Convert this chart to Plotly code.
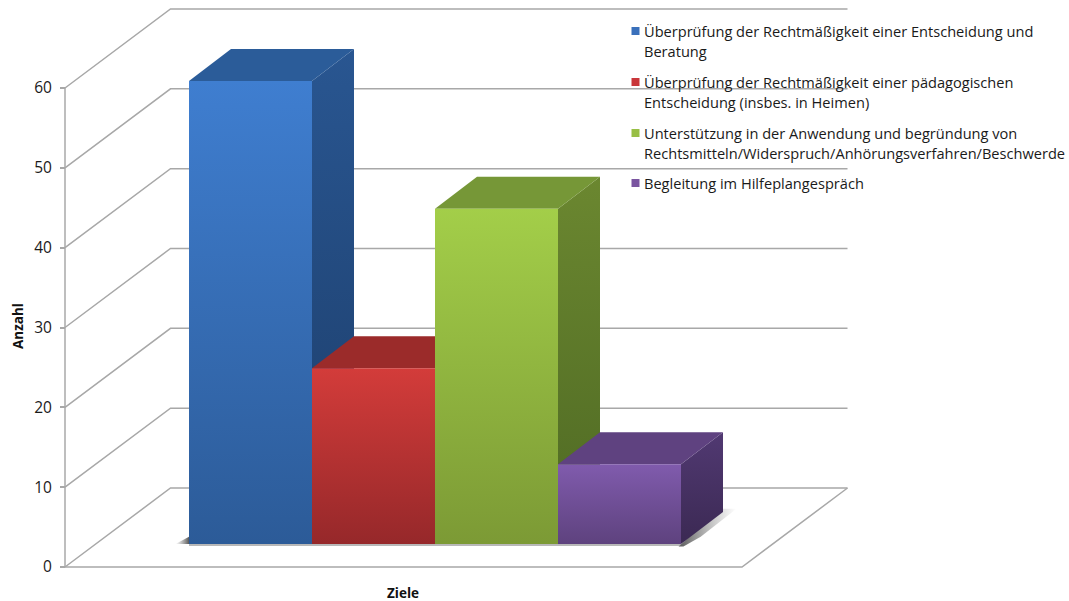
import plotly.graph_objects as go

# Chart content
categories = [
    "Überprüfung der Rechtmäßigkeit einer Entscheidung und<br>Beratung",
    "Überprüfung der Rechtmäßigkeit einer pädagogischen<br>Entscheidung (insbes. in Heimen)",
    "Unterstützung in der Anwendung und begründung von<br>Rechtsmitteln/Widerspruch/Anhörungsverfahren/Beschwerde",
    "Begleitung im Hilfeplangespräch",
]
values = [58, 22, 42, 10]
y_ticks = [0, 10, 20, 30, 40, 50, 60]

# Face colours per bar
front_top = ["#3F7ED0", "#D33C3A", "#A3CE49", "#805BAD"]
front_bottom = ["#2C5B98", "#96282A", "#7C9A35", "#5E427E"]
top_face = ["#2B5C99", "#9B2B2A", "#769737", "#5F4280"]
side_top = ["#295691", "#8A2625", "#6B8730", "#513972"]
side_bottom = ["#1C3D6A", "#6A1C1C", "#4E6923", "#3B2953"]
swatch = ["#3A70BB", "#C9363A", "#98BF45", "#7A55A0"]

GRID = "#A8A8A8"
WIDTH, HEIGHT = 1069, 601

# Axis scales: one x unit is one bar width, y is in counts
PX_PER_X = 123.0
PX_PER_Y = 479.0 / 60.0
X_ZERO_PX = 189.0
Y_ZERO_PX = 567.0
x_range = [-X_ZERO_PX / PX_PER_X, (WIDTH - X_ZERO_PX) / PX_PER_X]
y_range = [(Y_ZERO_PX - HEIGHT) / PX_PER_Y, Y_ZERO_PX / PX_PER_Y]

# Oblique projection of the box
WALL_LEFT = (65 - X_ZERO_PX) / PX_PER_X
FLOOR_W = 677 / PX_PER_X
WALL_DX = 105.5 / PX_PER_X
WALL_DY = 79.0 / PX_PER_Y
BAR_DX = 42.0 / PX_PER_X
BAR_DY = 32.0 / PX_PER_Y
BAR_BASE = 23.0 / PX_PER_Y

fig = go.Figure()


def polygon(xs, ys, **style):
    fig.add_trace(go.Scatter(
        x=xs, y=ys, mode="lines", fill="toself", line=dict(width=0),
        hoverinfo="skip", showlegend=False, **style))


# Walls: each tick runs along the left wall and then the back wall
for v in y_ticks:
    fig.add_trace(go.Scatter(
        x=[WALL_LEFT, WALL_LEFT + WALL_DX, WALL_LEFT + WALL_DX + FLOOR_W],
        y=[v, v + WALL_DY, v + WALL_DY],
        mode="lines", line=dict(color=GRID, width=1.5),
        hoverinfo="skip", showlegend=False))

# Floor outline
fig.add_trace(go.Scatter(
    x=[WALL_LEFT, WALL_LEFT + FLOOR_W, WALL_LEFT + FLOOR_W + WALL_DX],
    y=[0, 0, WALL_DY],
    mode="lines", line=dict(color=GRID, width=1.5),
    hoverinfo="skip", showlegend=False))

# Soft shadows on the floor
n = len(values)
SHADOW = "rgba(60,60,60,0.85)"
CLEAR = "rgba(120,120,120,0)"
polygon(
    [-0.11, 0, 0, -0.11],
    [BAR_BASE, BAR_BASE + 0.9, BAR_BASE, BAR_BASE],
    fillgradient=dict(type="horizontal", colorscale=[[0, CLEAR], [1, SHADOW]]),
)
polygon(
    [n + BAR_DX - 0.02, n + BAR_DX + 0.11, n + 0.16, n + 0.02, n - 0.02],
    [BAR_BASE + BAR_DY + 0.4, BAR_BASE + BAR_DY + 0.4, BAR_BASE + 0.9,
     BAR_BASE - 0.3, BAR_BASE - 0.3],
    fillgradient=dict(type="horizontal", colorscale=[[0, SHADOW], [1, CLEAR]]),
)
fig.add_trace(go.Scatter(
    x=[0, n], y=[BAR_BASE - 0.12, BAR_BASE - 0.12], mode="lines",
    line=dict(color="rgba(120,120,120,0.7)", width=1.5),
    hoverinfo="skip", showlegend=False))

# Bars, left to right so each one overlaps its neighbour's side face
for i, (name, v) in enumerate(zip(categories, values)):
    x0, x1 = i, i + 1
    base, head = BAR_BASE, BAR_BASE + v
    polygon(
        [x1, x1 + BAR_DX, x1 + BAR_DX, x1, x1],
        [base, base + BAR_DY, head + BAR_DY, head, base],
        fillgradient=dict(type="vertical",
                          colorscale=[[0, side_bottom[i]], [1, side_top[i]]]),
    )
    polygon(
        [x0, x1, x1 + BAR_DX, x0 + BAR_DX, x0],
        [head, head, head + BAR_DY, head + BAR_DY, head],
        fillcolor=top_face[i],
    )
    polygon(
        [x0, x1, x1, x0, x0],
        [base, base, head, head, base],
        name=name.replace("<br>", " "),
        fillgradient=dict(type="vertical",
                          colorscale=[[0, front_bottom[i]], [1, front_top[i]]]),
    )

# Legend column: square keys beside wrapped labels, one annotation per line
legend_y_px = [31, 82, 133, 183]
LEGEND_KEY_PX = 635.5
LEGEND_TEXT_PX = 643
LEGEND_LINE_PX = 20
annotations = []
for i, name in enumerate(categories):
    key_y = (Y_ZERO_PX - legend_y_px[i]) / PX_PER_Y
    fig.add_trace(go.Scatter(
        x=[(LEGEND_KEY_PX - X_ZERO_PX) / PX_PER_X], y=[key_y], mode="markers",
        marker=dict(symbol="square", size=8, color=swatch[i]),
        hoverinfo="skip", showlegend=False))
    for j, line in enumerate(name.split("<br>")):
        annotations.append(dict(
            xref="paper", yref="y", x=LEGEND_TEXT_PX / WIDTH,
            y=key_y - j * LEGEND_LINE_PX / PX_PER_Y,
            text=line, showarrow=False, xanchor="left", yanchor="middle",
            font=dict(family="Open Sans", size=14.6, color="#1A1A1A"),
            borderpad=0))

# Axis titles
TITLE_FONT = dict(family="Open Sans", size=13.5, color="#111111", weight="bold")
annotations.append(dict(
    xref="paper", yref="paper", x=403 / WIDTH, y=1 - 593 / HEIGHT, text="Ziele",
    xanchor="center", yanchor="middle", showarrow=False, font=TITLE_FONT))
annotations.append(dict(
    xref="paper", yref="paper", x=18 / WIDTH, y=1 - 326 / HEIGHT, text="Anzahl",
    xanchor="center", yanchor="middle", textangle=-90, showarrow=False,
    font=TITLE_FONT))

fig.update_layout(
    width=WIDTH, height=HEIGHT, autosize=False,
    margin=dict(l=0, r=0, t=0, b=0),
    paper_bgcolor="white", plot_bgcolor="white",
    showlegend=False,
    annotations=annotations,
    xaxis=dict(range=x_range, domain=[0, 1], visible=False, fixedrange=True),
    yaxis=dict(
        range=y_range, domain=[0, 1], anchor="free",
        position=65 / WIDTH, side="left", tickmode="array",
        tickvals=y_ticks, ticktext=[str(t) for t in y_ticks],
        ticks="outside", ticklen=5, tickwidth=1.5, tickcolor=GRID,
        ticklabelstandoff=5,
        showgrid=False, zeroline=False, showline=False,
        tickfont=dict(family="Open Sans", size=15.5, color="#1A1A1A"),
        fixedrange=True,
    ),
    shapes=[dict(
        type="line", xref="x", yref="y", x0=WALL_LEFT, x1=WALL_LEFT,
        y0=0, y1=y_ticks[-1], line=dict(color=GRID, width=1.5), layer="below",
    )],
)

fig.write_html("out.html", config={"displayModeBar": False})
